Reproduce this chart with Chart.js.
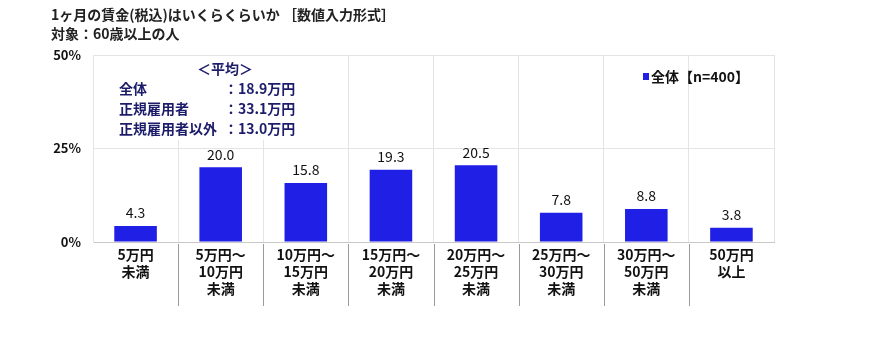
<!DOCTYPE html>
<html><head><meta charset="utf-8">
<script src="https://cdn.jsdelivr.net/npm/chart.js@4"></script>
<style>html,body{margin:0;padding:0;background:#fff}#wrap{width:870px;height:356px}</style>
</head><body><div id="wrap"><canvas id="c" width="870" height="356"></canvas></div>
<script>
const categories = [["5万円","未満"],["5万円～","10万円","未満"],["10万円～","15万円","未満"],["15万円～","20万円","未満"],["20万円～","25万円","未満"],["25万円～","30万円","未満"],["30万円～","50万円","未満"],["50万円","以上"]];
const values = [4.3, 20.0, 15.8, 19.3, 20.5, 7.8, 8.8, 3.8];
const seriesLabel = "全体【n=400】";
const yTicks = [0, 25, 50];
const titleLines = ["1ヶ月の賃金(税込)はいくらくらいか ［数値入力形式］", "対象：60歳以上の人"];
const avgHeader = "＜平均＞";
const avgNames = ["全体", "正規雇用者", "正規雇用者以外"];
const avgValues = ["：18.9万円", "：33.1万円", "：13.0万円"];

const FONT = '"Noto Sans CJK JP", "Noto Sans", sans-serif';
const BLUE = '#1f1fe6';

const overlay = {
  id: 'overlay',
  beforeDatasetsDraw(chart) {
    const ctx = chart.ctx, a = chart.chartArea;
    ctx.save();
    ctx.fillStyle = '#fff';
    ctx.fillRect(a.left + 1, a.top + 1, 254, 84);
    ctx.restore();
  },
  afterDraw(chart) {
    const ctx = chart.ctx, a = chart.chartArea, x = chart.scales.x;
    ctx.save();
    ctx.fillStyle = '#222';
    ctx.font = 'bold 14px ' + FONT;
    ctx.textBaseline = 'middle';
    ctx.textAlign = 'left';
    ctx.fillText(titleLines[0], 51, 15);
    ctx.fillText(titleLines[1], 51, 34);
    ctx.strokeStyle = '#9a9a9a';
    ctx.lineWidth = 1;
    const n = categories.length;
    for (let i = 1; i < n; i++) {
      const px = Math.round((x.getPixelForValue(i - 1) + x.getPixelForValue(i)) / 2) + 0.5;
      ctx.beginPath(); ctx.moveTo(px, a.bottom + 2); ctx.lineTo(px, 306); ctx.stroke();
    }
    ctx.fillStyle = '#1c1c6b';
    ctx.font = 'bold 14px ' + FONT;
    ctx.textAlign = 'center';
    ctx.fillText(avgHeader, 225, 69);
    ctx.textAlign = 'left';
    for (let i = 0; i < avgNames.length; i++) {
      const yy = 89 + i * 20;
      ctx.fillText(avgNames[i], 119, yy);
      ctx.fillText(avgValues[i], 224, yy);
    }
    ctx.fillStyle = BLUE;
    ctx.fillRect(643, 73, 6, 7);
    ctx.fillStyle = '#111';
    ctx.font = 'bold 14px ' + FONT;
    ctx.fillText(chart.data.datasets[0].label, 651, 77);
    const meta = chart.getDatasetMeta(0);
    ctx.font = '14px ' + FONT;
    ctx.textAlign = 'center';
    ctx.textBaseline = 'bottom';
    ctx.fillStyle = '#111';
    meta.data.forEach((bar, i) => {
      ctx.fillText(values[i].toFixed(1), bar.x, bar.y - 6);
    });
    ctx.restore();
  }
};

new Chart(document.getElementById('c'), {
  type: 'bar',
  data: {
    labels: categories,
    datasets: [{ label: seriesLabel, data: values, backgroundColor: BLUE, borderWidth: 0,
      categoryPercentage: 1, barPercentage: 0.5 }]
  },
  options: {
    responsive: false,
    animation: false,
    layout: { padding: { left: 0, right: 96, top: 55, bottom: 40 } },
    plugins: { legend: { display: false }, tooltip: { enabled: false } },
    scales: {
      x: {
        offset: true,
        grid: { offset: true, color: '#e4e4e4', drawTicks: false },
        border: { color: '#c8c8c8' },
        ticks: { color: '#111', font: { family: FONT, size: 14, weight: 'bold', lineHeight: 1.22 }, padding: 4, maxRotation: 0, autoSkip: false },
        afterFit(s) { s.height = 74; }
      },
      y: {
        min: 0, max: 50,
        afterBuildTicks(s) { s.ticks = yTicks.map(v => ({ value: v })); },
        grid: { color: '#e4e4e4', drawTicks: false },
        border: { color: '#e4e4e4' },
        ticks: { color: '#111', font: { family: FONT, size: 13, weight: 'bold' }, padding: 12, callback: v => v + '%' },
        afterFit(s) { s.width = 93; }
      }
    }
  },
  plugins: [overlay]
});
</script></body></html>
